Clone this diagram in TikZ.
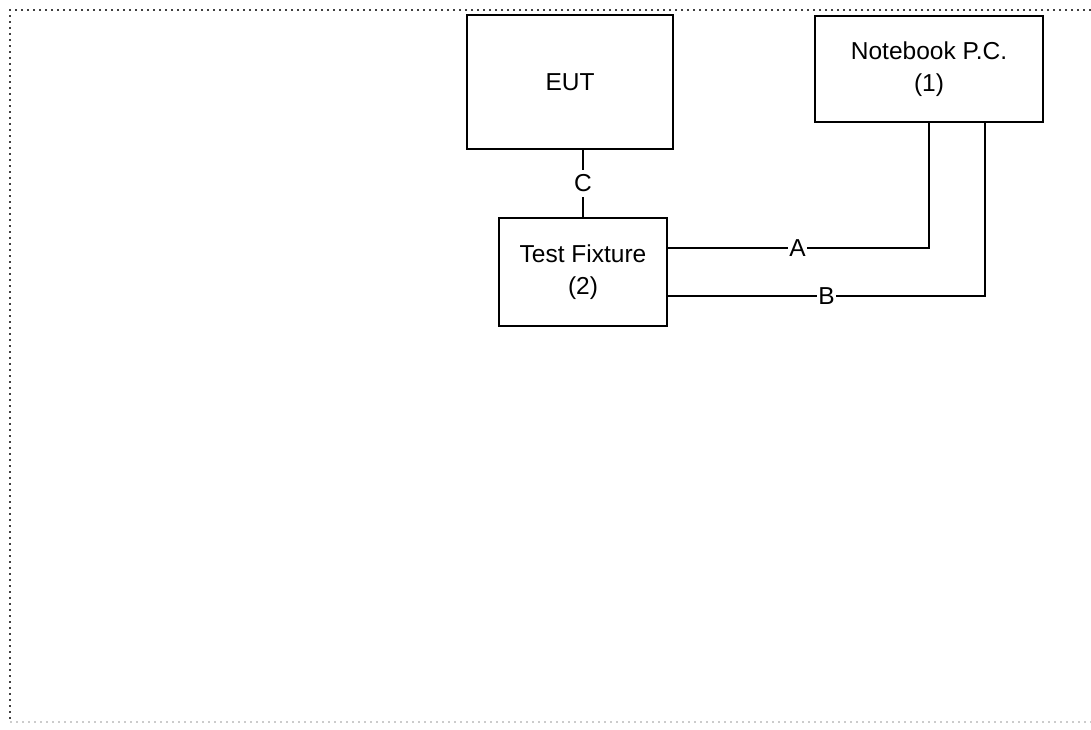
\documentclass[tikz,border=0pt]{standalone}
\usepackage{fontspec}
\setmainfont{Liberation Sans}

\begin{document}
\begin{tikzpicture}[x = 1pt, y = -1pt,
    box/.style = {draw, line width = 2.4pt, inner sep = 0pt, align = center, font = \fontsize{24.5}{32}\selectfont},
    wire/.style = {line width = 2.4pt},
    tag/.style = {fill = white, inner sep = 1.5pt, font = \fontsize{24.5}{28}\selectfont},
    frame/.style = {line width = 2pt, dash pattern = on 2pt off 4pt, line cap = butt}]
    \useasboundingbox (0, 0) rectangle (1091, 729);

    \draw[frame, black!75] (1091, 10) -- (10, 10) -- (10, 722);
    \draw[frame, black!20] (10, 722) -- (1091, 722);

    \node[box, minimum width = 206pt, minimum height = 134pt] (eut) at (570, 82) {EUT};
    \node[box, minimum width = 228pt, minimum height = 106pt] (pc) at (929, 69) {Notebook P.C.\\(1)};
    \node[box, minimum width = 168pt, minimum height = 108pt] (fix) at (583, 272) {Test Fixture\\(2)};

    \draw[wire] (fix.north) -- node[tag, inner ysep = 5pt]{C} (fix.north |- eut.south);
    \draw[wire] ([yshift = 24pt]fix.east) -| node[tag, pos = 0.248]{A} (pc.south);
    \draw[wire] ([yshift = -24pt]fix.east) -| node[tag, pos = 0.25]{B} ([xshift = 56pt]pc.south);
\end{tikzpicture}
\end{document}
